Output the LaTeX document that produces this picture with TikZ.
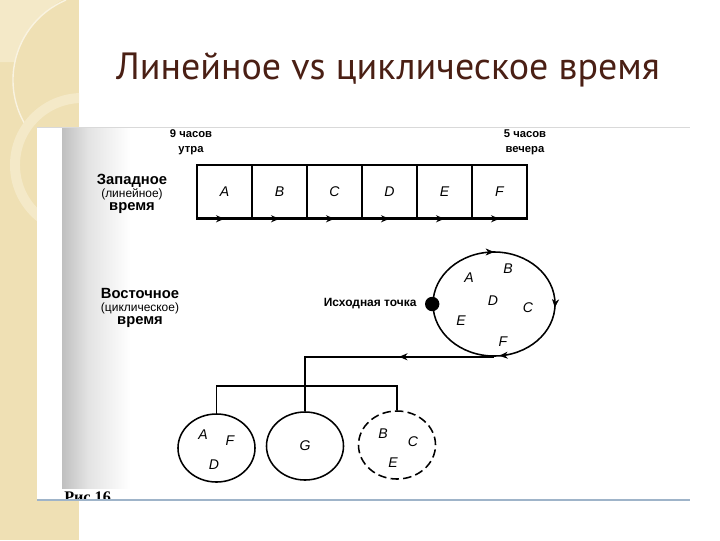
\documentclass[tikz,border=0pt]{standalone}
\usepackage{fontspec}
\setmainfont{Liberation Sans}
\newfontfamily\titlefont{PT Sans}
\newfontfamily\figfont{Liberation Serif}
\usetikzlibrary{positioning,shapes.geometric,arrows.meta,decorations.markings}
\definecolor{beige}{HTML}{EFE0B4}
\definecolor{beigelight}{HTML}{F4E9C8}
\definecolor{titlebrown}{HTML}{4A1F14}
\definecolor{rulecol}{HTML}{9FB4C9}
\tikzset{
  cell/.style={draw,line width=1.1pt,minimum width=1.375cm,minimum height=1.325cm,
    inner sep=0pt,font=\fontsize{10}{11}\selectfont\itshape},
  letter/.style={font=\fontsize{10}{11}\selectfont\itshape,inner sep=0pt},
  sidetext/.style={align=center,inner sep=0pt,font=\fontsize{8}{10.5}\selectfont\bfseries},
  ring/.style={draw,ellipse,line width=1.1pt,inner sep=0pt,
    minimum width=1.925cm,minimum height=1.7cm},
  tip/.tip={Stealth[length=6pt,width=5pt]},
  midarrow/.style={postaction={decorate},decoration={markings,
    mark=at position #1 with {\arrow{tip}}}},
}

\begin{document}
\begin{tikzpicture}[x=0.025cm,y=-0.025cm]
\useasboundingbox (0,0) rectangle (720,540);
% stripe on the left
\fill[beige] (0,0) rectangle (79,540);
\begin{scope}
\clip (0,0) rectangle (79,540);
\fill[beigelight] (0,0) -- (62,0) .. controls (38,14) and (20,38) .. (15,62) -- (0,62) -- cycle;
\draw[white!60!beige,line width=1pt] (66,0) arc[start angle=113,end angle=215,radius=2.175cm];
\fill[beigelight,even odd rule] (82,165) circle[radius=1.8cm] (82,165) circle[radius=1.55cm];
\end{scope}
% slide frame
\fill[white] (37,127) rectangle (690,500);
\draw[gray!30,line width=0.4pt] (37,127) -- (690,127);
\shade[left color=gray!50,right color=gray!22] (62,128) rectangle (88,488);
\shade[left color=gray!22,right color=white] (88,128) rectangle (130,488);
\begin{scope}
\clip (37,480) rectangle (690,500);
\node[font=\figfont\fontsize{11.5}{12}\selectfont\bfseries,anchor=base west,inner sep=0pt] (fig) at (64,502) {Рис 16};
\end{scope}
\draw[rulecol,line width=1.1pt] (37,500) -- (690,500);

\node[font=\titlefont\fontsize{27}{30}\selectfont,text=titlebrown] (title) at (388,70) {Линейное vs циклическое время};

% linear time
\foreach \l [count=\i] in {A,B,C,D,E,F}
  \node[cell] (c\i) at ({224.5+55*(\i-1)},191.5) {\l};
\foreach \i in {1,...,6}
  \draw[line width=1.1pt,midarrow=0.5] (c\i.south west) -- (c\i.south east);
\node[sidetext] (morning) at (191,142) {9 часов\\утра};
\node[sidetext] (evening) at (525,142) {5 часов\\вечера};
\node[sidetext,font=\fontsize{10.5}{10}\selectfont\bfseries] (west) at (132,194)
  {Западное\\[-1pt]{\fontsize{8.5}{10}\mdseries\selectfont(линейное)}\\[-1pt]время};

% cyclic time
\node[draw,ellipse,line width=1.1pt,inner sep=0pt,minimum width=3.05cm,minimum height=2.6cm] (cyc) at (494,304) {};
\path[decoration={markings,
    mark=at position 0.25 with {\arrowreversed{tip}},
    mark=at position 0.99 with {\arrowreversed{tip}},
    mark=at position 0.765 with {\arrowreversed{tip}}},decorate]
  (cyc.center) ellipse[x radius=1.525cm,y radius=1.3cm];
\node[circle,fill,inner sep=0pt,minimum size=0.36cm] (start) at (cyc.west) {};
\node[left=0.2cm of start,sidetext,font=\fontsize{8.5}{10}\selectfont\bfseries] (startlabel) {Исходная точка};
\node[letter] (ca) at (469,278) {A};
\node[letter] (cb) at (508,269) {B};
\node[letter] (cd) at (493,301) {D};
\node[letter] (cc) at (528,308) {C};
\node[letter] (ce) at (461,321) {E};
\node[letter] (cf) at (503,342) {F};
\node[sidetext,font=\fontsize{10.5}{10}\selectfont\bfseries] (east) at (140,308)
  {Восточное\\[-1pt]{\fontsize{8.5}{10}\mdseries\selectfont(циклическое)}\\[-1pt]время};

% split into groups
\node[ring] (left) at (216.5,448) {};
\node[ring] (mid) at (305,446) {};
\node[ring,dash pattern=on 6pt off 3pt] (right) at (397,445) {};
\coordinate (bar) at (305,386);
\draw[line width=1.1pt,midarrow=0.39] (cyc.south) -| (mid.north);
\draw[line width=1.1pt] (left.north) |- (bar) -| (right.north);
\node[letter] (la) at (203,435) {A};
\node[letter] (lf) at (230,441) {F};
\node[letter] (ld) at (214,465) {D};
\node[letter] (mg) at (305,446) {G};
\node[letter] (rb) at (383,434) {B};
\node[letter] (rc) at (413,442) {C};
\node[letter] (re) at (393,463) {E};
\end{tikzpicture}
\end{document}
